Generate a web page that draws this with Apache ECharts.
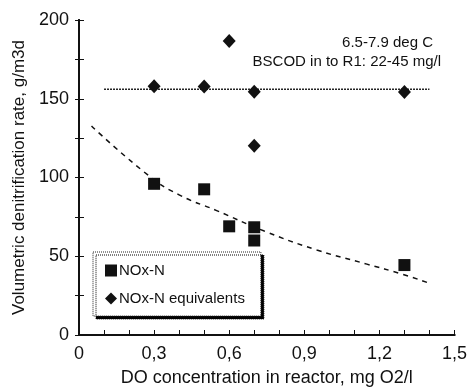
<!DOCTYPE html>
<html><head><meta charset="utf-8">
<script src="https://cdn.jsdelivr.net/npm/echarts@6/dist/echarts.min.js"></script>
<style>html,body{margin:0;padding:0;background:#fff}#c{width:470px;height:392px}</style>
</head><body><div id="c"></div>
<script>
// Data
const noxX = [0.3, 0.5, 0.6, 0.7, 0.7, 1.3];
const noxY = [96, 92.5, 69, 68.4, 60, 44.4];
const eqX = [0.3, 0.5, 0.6, 0.7, 0.7, 1.3];
const eqY = [158, 157.7, 186.7, 154.5, 120.2, 154.3];
const flatX = [0.1, 1.4];
const flatY = [156, 156];
const curveX = [0.05, 0.28, 0.4, 0.55, 0.74, 0.95, 1.15, 1.29, 1.39];
const curveY = [132.7, 101, 89, 79, 66, 54, 45, 38.7, 33.4];
const xTicks = [0, 0.3, 0.6, 0.9, 1.2, 1.5];
const yTicks = [0, 50, 100, 150, 200];
const zip = (a, b) => a.map((v, i) => [v, b[i]]);

const font = 'Liberation Sans, Arial, Helvetica, sans-serif';
const ink = '#111';
const chart = echarts.init(document.getElementById('c'));
chart.setOption({
  animation: false,
  backgroundColor: '#fff',
  grid: { left: 79, right: 12, top: 20, bottom: 57 },
  xAxis: [{
    type: 'value', min: 0, max: 1.5, interval: 0.1,
    name: 'DO concentration in reactor, mg O2/l', nameLocation: 'middle', nameGap: 34,
    nameTextStyle: { fontFamily: font, fontSize: 18, color: ink },
    axisLine: { show: true, lineStyle: { color: ink, width: 2 } },
    axisTick: { show: true, inside: true, length: 5, lineStyle: { color: ink, width: 1 } },
    splitLine: { show: false },
    axisLabel: { fontFamily: font, fontSize: 18, color: ink, margin: 10, showMinLabel: true, showMaxLabel: true,
      formatter: v => { const t = xTicks.find(x => Math.abs(x - v) < 1e-6); return t === undefined ? '' : (t === 0 ? '0' : t.toFixed(1).replace('.', ',')); } }
  }, {
    type: 'value', min: 0, max: 1.5, position: 'top',
    axisLine: { show: true, lineStyle: { color: ink, width: 2 } },
    axisTick: { show: false }, axisLabel: { show: false }, splitLine: { show: false }
  }],
  yAxis: [{
    type: 'value', min: 0, max: 200, interval: 25,
    name: 'Volumetric denitrification rate, g/m3d', nameLocation: 'middle', nameGap: 48,
    nameTextStyle: { fontFamily: font, fontSize: 17, color: ink },
    axisLine: { show: true, lineStyle: { color: ink, width: 2 } },
    axisTick: { show: true, inside: true, length: 5, lineStyle: { color: ink, width: 1 } },
    splitLine: { show: false },
    axisLabel: { fontFamily: font, fontSize: 18, color: ink, margin: 10,
      formatter: v => yTicks.includes(v) ? String(v) : '' }
  }, {
    type: 'value', min: 0, max: 200, interval: 25, position: 'right',
    axisLine: { show: true, lineStyle: { color: ink, width: 2 } },
    axisTick: { show: true, inside: true, length: 4, lineStyle: { color: ink, width: 1 } },
    axisLabel: { show: false }, splitLine: { show: false }
  }],
  legend: {
    orient: 'vertical', left: 93, top: 252,
    padding: [11, 16, 10, 12], itemGap: 13, itemWidth: 12, itemHeight: 12,
    backgroundColor: '#fff', borderColor: '#222', borderWidth: 1, borderType: 'dotted',
    shadowColor: '#000', shadowOffsetX: 3, shadowOffsetY: 3, shadowBlur: 0,
    textStyle: { fontFamily: font, fontSize: 15, color: ink, padding: [0, 0, 0, -3] },
    data: [{ name: 'NOx-N', icon: 'rect' }, { name: 'NOx-N equivalents', icon: 'diamond' }]
  },
  graphic: [
    { type: 'text', right: 37, top: 35, style: { text: '6.5-7.9 deg C', font: '15px ' + font, fill: ink } },
    { type: 'text', right: 29, top: 54, style: { text: 'BSCOD in to R1: 22-45 mg/l', font: '15px ' + font, fill: ink } }
  ],
  series: [
    { name: 'flat', type: 'line', data: zip(flatX, flatY), symbol: 'none',
      lineStyle: { color: '#222', width: 1.5, type: [2, 1] }, z: 1 },
    { name: 'curve', type: 'line', data: zip(curveX, curveY), symbol: 'none', smooth: true,
      lineStyle: { color: ink, width: 1.5, type: [5, 5] }, z: 1 },
    { name: 'NOx-N', type: 'scatter', data: zip(noxX, noxY), symbol: 'rect', symbolSize: 12,
      itemStyle: { color: ink, opacity: 1 }, z: 3 },
    { name: 'NOx-N equivalents', type: 'scatter', data: zip(eqX, eqY), symbol: 'diamond', symbolSize: [13, 14],
      itemStyle: { color: ink, opacity: 1 }, z: 3 }
  ]
});
</script></body></html>
